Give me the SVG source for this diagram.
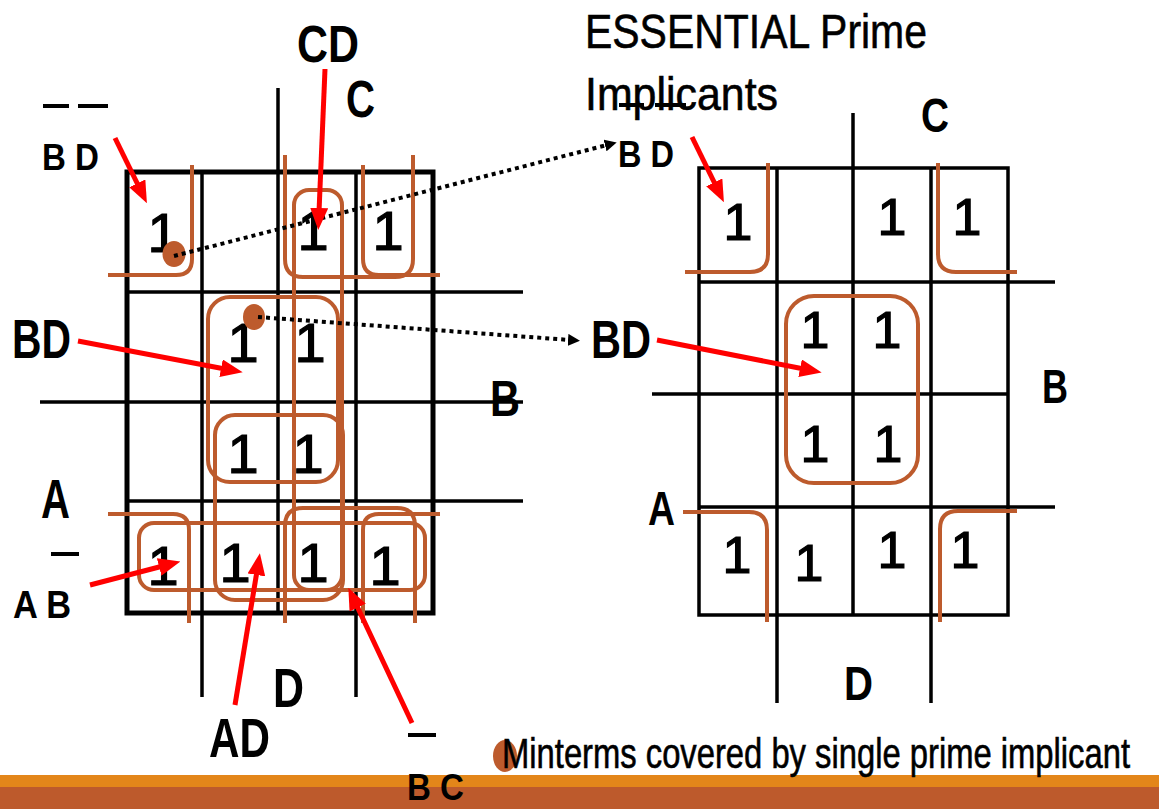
<svg xmlns="http://www.w3.org/2000/svg" width="1159" height="809" viewBox="0 0 1159 809">
  <style>
    .grid { stroke: #000; stroke-width: 3.5; fill: none; }
    .frame { stroke: #000; stroke-width: 5; fill: none; }
    .frame2 { stroke: #000; stroke-width: 3.5; fill: none; }
    .grp { stroke: #BD5B2D; stroke-width: 4; fill: none; }
    .dot { fill: #BD5B2D; }
    .one { font-family: "Liberation Sans", Arial, sans-serif; text-anchor: middle; fill: #000; stroke: #000; stroke-width: 1.2; }
    .lbl { font-family: "Liberation Sans", Arial, sans-serif; font-weight: bold; fill: #000; }
    .txt { font-family: "Liberation Sans", Arial, sans-serif; fill: #000; stroke: #000; stroke-width: 0.6; }
    .bar { stroke: #000; stroke-width: 4; }
    .red { stroke: #FF0000; stroke-width: 5; fill: none; marker-end: url(#redHead); }
    .dots { stroke: #000; stroke-width: 4; stroke-dasharray: 4 4; fill: none; marker-end: url(#blackHead); }
  </style>
  <defs>
    <marker id="redHead" markerUnits="userSpaceOnUse" markerWidth="22" markerHeight="18" refX="4" refY="9" orient="auto">
      <path d="M0,0 L22,9 L0,18 Z" fill="#FF0000"/>
    </marker>
    <marker id="blackHead" markerUnits="userSpaceOnUse" markerWidth="12" markerHeight="12" refX="2" refY="6" orient="auto">
      <path d="M0,0 L12,6 L0,12 Z" fill="#000"/>
    </marker>
  </defs>

  <rect width="1159" height="809" fill="#fff"/>

  <!-- bottom band -->
  <g id="footer-band">
    <rect x="0" y="775" width="1159" height="13" fill="#E3861A"/>
    <rect x="0" y="787" width="1159" height="22" fill="#BD5A2C"/>
  </g>

  <!-- left K-map: grid -->
  <g id="kmap-left-grid">
    <rect class="frame" x="127" y="172" width="306" height="441"/>
    <line class="grid" x1="278" y1="88" x2="278" y2="613"/>
    <line class="grid" x1="202" y1="172" x2="202" y2="697"/>
    <line class="grid" x1="356" y1="172" x2="356" y2="697"/>
    <line class="grid" x1="127" y1="292" x2="523" y2="292"/>
    <line class="grid" x1="40" y1="402" x2="523" y2="402"/>
    <line class="grid" x1="127" y1="501" x2="523" y2="501"/>
  </g>

  <!-- left K-map: prime implicant loops -->
  <g id="kmap-left-loops">
    <path class="grp" d="M108,275 H176 Q192,275 192,259 V165"/>
    <path class="grp" d="M363,165 V259 Q363,275 379,275 H440"/>
    <path class="grp" d="M108,514 H173 Q189,514 189,530 V623"/>
    <path class="grp" d="M363,623 V530 Q363,514 379,514 H440"/>
    <path class="grp" d="M285,155 V259 Q285,277 303,277 H395 Q413,277 413,259 V155"/>
    <path class="grp" d="M285,623 V526 Q285,508 303,508 H397 Q415,508 415,526 V623"/>
    <rect class="grp" x="294" y="190" width="48" height="400" rx="15"/>
    <rect class="grp" x="208" y="297" width="130" height="185" rx="22"/>
    <rect class="grp" x="215" y="415" width="128" height="185" rx="20"/>
    <rect class="grp" x="139" y="523" width="286" height="67" rx="15"/>
  </g>

  <!-- left K-map: cell values -->
  <g id="kmap-left-cells" class="one" font-size="56">
    <text x="163" y="252">1</text>
    <text x="313" y="250">1</text>
    <text x="388" y="250">1</text>
    <text x="243" y="362">1</text>
    <text x="310" y="362">1</text>
    <text x="243" y="473">1</text>
    <text x="308" y="473">1</text>
    <text x="163" y="585">1</text>
    <text x="235" y="582">1</text>
    <text x="313" y="582">1</text>
    <text x="385" y="585">1</text>
  </g>

  <!-- left K-map: variable labels -->
  <g id="kmap-left-labels">
    <text class="lbl" x="297" y="62" font-size="52" textLength="62" lengthAdjust="spacingAndGlyphs">CD</text>
    <text class="lbl" x="346" y="117" font-size="52" textLength="29" lengthAdjust="spacingAndGlyphs">C</text>
    <text class="lbl" x="490" y="416" font-size="50" textLength="30" lengthAdjust="spacingAndGlyphs">B</text>
    <text class="lbl" x="41" y="518" font-size="55" textLength="29" lengthAdjust="spacingAndGlyphs">A</text>
    <text class="lbl" x="273" y="707" font-size="56" textLength="31" lengthAdjust="spacingAndGlyphs">D</text>
    <text class="lbl" x="12" y="358" font-size="55" textLength="59" lengthAdjust="spacingAndGlyphs">BD</text>
    <text class="lbl" x="209" y="757" font-size="55" textLength="61" lengthAdjust="spacingAndGlyphs">AD</text>
  </g>

  <!-- left K-map: complemented term labels -->
  <g id="term-bd-bar-left">
    <line class="bar" x1="43" y1="106" x2="69" y2="106"/>
    <line class="bar" x1="78" y1="106" x2="108" y2="106"/>
    <text class="lbl" x="42" y="170" font-size="37" textLength="57" lengthAdjust="spacingAndGlyphs">B D</text>
  </g>
  <g id="term-ab-bar">
    <line class="bar" x1="51" y1="554" x2="79" y2="554"/>
    <text class="lbl" x="13" y="618" font-size="38" textLength="58" lengthAdjust="spacingAndGlyphs">A B</text>
  </g>

  <!-- right K-map: grid -->
  <g id="kmap-right-grid">
    <rect class="frame2" x="699" y="168" width="309" height="447"/>
    <line class="grid" x1="853" y1="113" x2="853" y2="615" stroke-width="3"/>
    <line class="grid" x1="777" y1="168" x2="777" y2="703" stroke-width="3"/>
    <line class="grid" x1="931" y1="168" x2="931" y2="703" stroke-width="3"/>
    <line class="grid" x1="699" y1="282" x2="1055" y2="282" stroke-width="3"/>
    <line class="grid" x1="652" y1="394" x2="1008" y2="394" stroke-width="3"/>
    <line class="grid" x1="699" y1="507" x2="1055" y2="507" stroke-width="3"/>
  </g>

  <!-- right K-map: essential prime implicant loops -->
  <g id="kmap-right-loops">
    <path class="grp" d="M685,272 H750 Q768,272 768,254 V163"/>
    <path class="grp" d="M938,163 V254 Q938,272 956,272 H1017"/>
    <path class="grp" d="M683,512 H749 Q767,512 767,530 V622"/>
    <path class="grp" d="M940,622 V529 Q940,511 958,511 H1017"/>
    <rect class="grp" x="786" y="296" width="132" height="187" rx="28"/>
  </g>

  <!-- right K-map: cell values -->
  <g id="kmap-right-cells" class="one" font-size="52">
    <text x="738" y="240">1</text>
    <text x="892" y="235">1</text>
    <text x="967" y="235">1</text>
    <text x="815" y="348">1</text>
    <text x="887" y="348">1</text>
    <text x="815" y="462">1</text>
    <text x="888" y="462">1</text>
    <text x="737" y="573">1</text>
    <text x="809" y="581">1</text>
    <text x="892" y="568">1</text>
    <text x="965" y="568">1</text>
  </g>

  <!-- right K-map: labels -->
  <g id="kmap-right-labels">
    <text class="lbl" x="921" y="132" font-size="48" textLength="28" lengthAdjust="spacingAndGlyphs">C</text>
    <text class="lbl" x="1042" y="403" font-size="48" textLength="26" lengthAdjust="spacingAndGlyphs">B</text>
    <text class="lbl" x="648" y="525" font-size="48" textLength="27" lengthAdjust="spacingAndGlyphs">A</text>
    <text class="lbl" x="844" y="700" font-size="48" textLength="29" lengthAdjust="spacingAndGlyphs">D</text>
    <text class="lbl" x="591" y="358" font-size="54" textLength="60" lengthAdjust="spacingAndGlyphs">BD</text>
  </g>

  <!-- heading -->
  <g id="heading">
    <text class="txt" x="585" y="48" font-size="48" textLength="342" lengthAdjust="spacingAndGlyphs">ESSENTIAL Prime</text>
    <text class="txt" x="585" y="110" font-size="46" textLength="193" lengthAdjust="spacingAndGlyphs">Implicants</text>
  </g>

  <!-- right K-map: complemented corner term -->
  <g id="term-bd-bar-right">
    <line class="bar" x1="619" y1="105" x2="644" y2="105" stroke-width="3"/>
    <line class="bar" x1="655" y1="105" x2="686" y2="105" stroke-width="3"/>
    <text class="lbl" x="618" y="167" font-size="37" textLength="56" lengthAdjust="spacingAndGlyphs">B D</text>
  </g>

  <!-- single-cover markers -->
  <g id="markers">
    <ellipse class="dot" cx="174" cy="254" rx="11.5" ry="13"/>
    <ellipse class="dot" cx="254" cy="317" rx="11" ry="13"/>
  </g>

  <!-- legend -->
  <g id="legend">
    <ellipse class="dot" cx="505" cy="756" rx="12" ry="16"/>
    <text class="txt" x="502" y="768" font-size="42" textLength="628" lengthAdjust="spacingAndGlyphs">Minterms covered by single prime implicant</text>
  </g>

  <!-- term B'C label sits over the band -->
  <g id="term-bc-bar">
    <line class="bar" x1="408" y1="735" x2="436" y2="735"/>
    <text class="lbl" x="407" y="800" font-size="37" textLength="57" lengthAdjust="spacingAndGlyphs">B C</text>
  </g>

  <!-- connectors -->
  <g id="connectors">
    <line class="dots" x1="174" y1="256" x2="607" y2="145"/>
    <line class="dots" x1="258" y1="317" x2="570" y2="340"/>
    <line class="red" x1="115" y1="138" x2="139" y2="187"/>
    <line class="red" x1="325" y1="69" x2="319" y2="212"/>
    <line class="red" x1="78" y1="341" x2="225" y2="369"/>
    <line class="red" x1="90" y1="585" x2="163" y2="566"/>
    <line class="red" x1="235" y1="705" x2="257" y2="571"/>
    <line class="red" x1="412" y1="723" x2="356" y2="604"/>
    <line class="red" x1="692" y1="137" x2="716" y2="186"/>
    <line class="red" x1="657" y1="340" x2="804" y2="369"/>
  </g>
</svg>
